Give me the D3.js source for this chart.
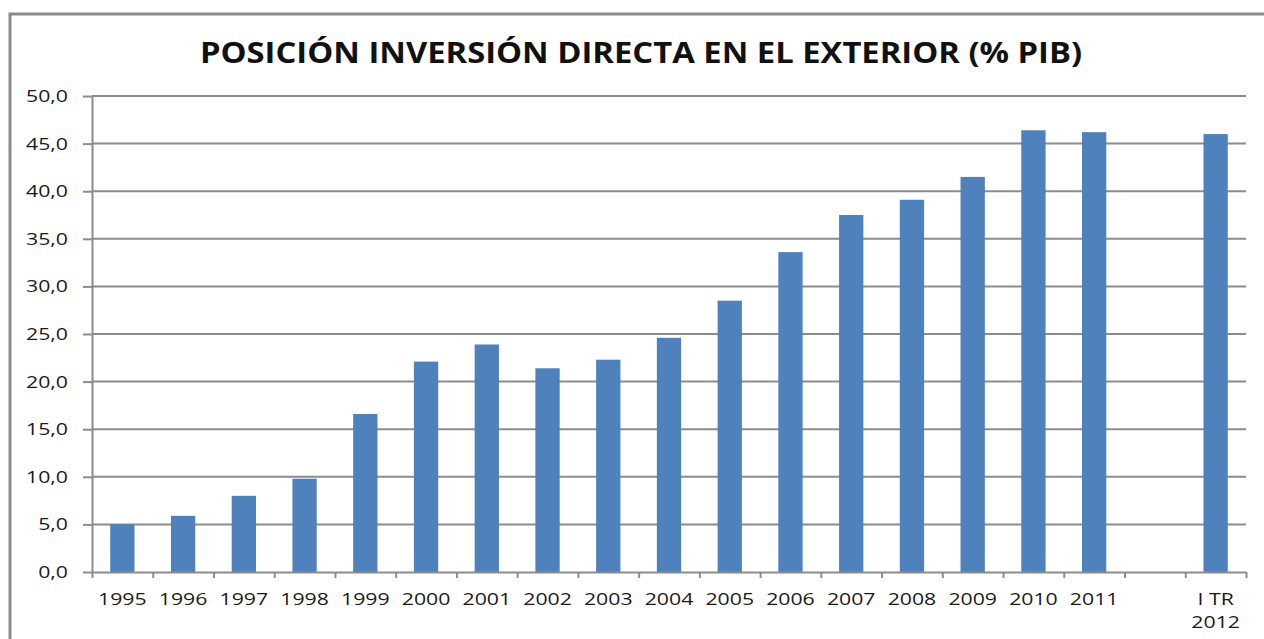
<!DOCTYPE html>
<html>
<head>
<meta charset="utf-8">
<script src="https://cdn.jsdelivr.net/npm/d3@7"></script>
<style>
    body { margin: 0; background: #fff; }
    svg { display: block; font-family: 'Open Sans', sans-serif; }
</style>
</head>
<body>
<svg id="chart" width="1264" height="639"></svg>
<script>
const title = 'POSICIÓN INVERSIÓN DIRECTA EN EL EXTERIOR (% PIB)';
const categories = ['1995', '1996', '1997', '1998', '1999', '2000', '2001', '2002', '2003',
    '2004', '2005', '2006', '2007', '2008', '2009', '2010', '2011', '', 'I TR|2012'];
const values = [5.0, 5.9, 8.0, 9.8, 16.6, 22.1, 23.9, 21.4, 22.3,
    24.6, 28.5, 33.6, 37.5, 39.1, 41.5, 46.4, 46.2, null, 46.0];
const yTicks = [0, 5, 10, 15, 20, 25, 30, 35, 40, 45, 50];

const fmt = d => d3.format('.1f')(d).replace('.', ',');
const stretch = 1.25;   // the picture is wider than tall, stretch the glyphs a bit

function draw() {
    const svg = d3.select('#chart');
    const left = 92, right = 1246, top = 96, bottom = 572;

    // outer frame
    svg.append('rect')
        .attr('x', 10).attr('y', 14)
        .attr('width', 1300).attr('height', 700)
        .attr('fill', 'none')
        .attr('stroke', '#8a8a8a')
        .attr('stroke-width', 3);

    svg.append('g')
        .attr('transform', 'translate(641,63)')
        .append('text')
        .attr('text-anchor', 'middle')
        .attr('transform', 'scale(1.13,1)')
        .attr('font-size', 29)
        .attr('font-weight', 'bold')
        .attr('fill', '#111')
        .text(title);

    const keys = categories.map((c, i) => 'k' + i);
    const x = d3.scaleBand().domain(keys).range([left, right])
        .paddingInner(0.6).paddingOuter(0.3);
    const y = d3.scaleLinear().domain([0, 50]).range([bottom, top]);
    const bounds = d3.scaleLinear().domain([0, categories.length]).range([left, right]);

    // gridlines
    svg.append('g')
        .selectAll('line')
        .data(yTicks.filter(d => d > 0))
        .enter()
        .append('line')
        .attr('x1', left).attr('x2', right)
        .attr('y1', d => y(d)).attr('y2', d => y(d))
        .attr('stroke', '#8c8c8c')
        .attr('stroke-width', 2);

    // bars
    svg.append('g')
        .selectAll('rect')
        .data(values.map((v, i) => [keys[i], v]).filter(d => d[1] !== null))
        .enter()
        .append('rect')
        .attr('x', d => x(d[0]))
        .attr('y', d => y(d[1]))
        .attr('width', x.bandwidth())
        .attr('height', d => y(0) - y(d[1]))
        .attr('fill', '#4f81bd');

    // y axis
    const yAxis = svg.append('g')
        .attr('transform', 'translate(' + left + ',0)')
        .call(d3.axisLeft(y).tickValues(yTicks).tickFormat(fmt).tickSize(9).tickSizeOuter(0));
    yAxis.selectAll('line, path').attr('stroke', '#8c8c8c').attr('stroke-width', 2);
    yAxis.selectAll('text')
        .attr('x', -24 / stretch)
        .attr('transform', 'scale(' + stretch + ',1)')
        .attr('font-size', 17)
        .attr('font-family', 'Open Sans')
        .attr('fill', '#1a1a1a');

    // x axis: tick marks at the category boundaries
    const xTicks = svg.append('g')
        .attr('transform', 'translate(0,' + bottom + ')')
        .call(d3.axisBottom(bounds).tickValues(d3.range(categories.length + 1))
            .tickFormat('').tickSize(6).tickSizeOuter(0));
    xTicks.selectAll('line, path').attr('stroke', '#8c8c8c').attr('stroke-width', 2);

    // x labels
    const xAxis = svg.append('g')
        .attr('transform', 'translate(0,' + bottom + ')')
        .call(d3.axisBottom(x).tickSize(0).tickFormat(''));
    xAxis.select('.domain').remove();
    xAxis.selectAll('.tick').each(function(d, i) {
        const t = d3.select(this).select('text')
            .attr('y', 0).attr('dy', null)
            .attr('transform', 'scale(' + stretch + ',1)')
            .attr('font-size', 17)
            .attr('font-family', 'Open Sans')
            .attr('fill', '#1a1a1a');
        categories[i].split('|').forEach((line, j) => {
            t.append('tspan').attr('x', 0).attr('y', 33 + j * 23).text(line);
        });
    });
}

draw();
</script>
</body>
</html>
